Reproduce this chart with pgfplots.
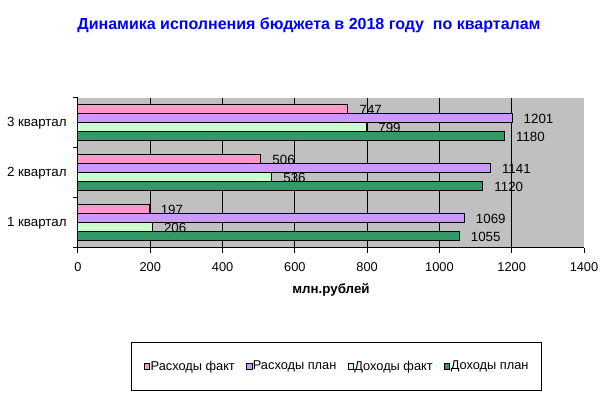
\documentclass[border=0pt]{standalone}
\usepackage{fontspec}
\setmainfont{Liberation Sans}
\usepackage{pgfplots}
\pgfplotsset{compat=1.18}

\definecolor{rfakt}{HTML}{FF99CC}
\definecolor{rplan}{HTML}{CC99FF}
\definecolor{dfakt}{HTML}{CCFFCC}
\definecolor{dplan}{HTML}{339966}
\definecolor{plotgray}{HTML}{C0C0C0}

\begin{document}
\begin{tikzpicture}
\useasboundingbox (-58.5pt,-116.25pt) rectangle (399.75pt,186pt);
\begin{axis}[
    at={(0,0)}, anchor=south west,
    scale only axis, width=379.5pt, height=112.5pt,
    xbar=0pt, bar width=0.18,
    xmin=0, xmax=1400, ymin=0, ymax=3,
    axis x line*=bottom, axis y line*=left,
    axis line style={-, line width=0.75pt, black},
    axis background/.style={fill=plotgray},
    tick align=outside,
    major tick length=3.75pt,
    tick style={black, line width=0.75pt},
    font=\fontsize{9.6}{11}\selectfont,
    /pgf/number format/assume math mode=true,
    /pgf/number format/1000 sep={},
    xtick={0,200,...,1400},
    extra x ticks={200,400,...,1200},
    extra x tick labels={},
    extra x tick style={grid=major, major tick length=0pt},
    grid style={black, line width=0.75pt},
    ytick={0,1,2,3},
    yticklabels={},
    extra y ticks={0.5,1.5,2.5},
    extra y tick labels={1 квартал,2 квартал,3 квартал},
    extra y tick style={major tick length=0pt},
    y tick label style={xshift=-5pt, font=\fontsize{10}{12}\selectfont},
    x tick label style={yshift=-3.5pt},
    xlabel={\textbf{млн.рублей}},
    xlabel style={yshift=1.5pt, font=\fontsize{10}{12}\selectfont},
    title={Динамика исполнения бюджета в 2018 году\ \ по кварталам},
    title style={at={(0.4565,1.487)}, anchor=center, yshift=-6.5pt,
      font=\bfseries\fontsize{12}{14}\selectfont, text=blue},
    nodes near coords,
    every node near coord/.append style={anchor=west, xshift=5pt, yshift=-0.5pt,
      font=\fontsize{10}{12}\selectfont, text=black},
    legend columns=4,
    reverse legend,
    legend image code/.code={\draw[#1, draw=black, line width=0.5pt] (0pt,-2pt) rectangle (4pt,2pt);},
    legend style={at={(0.511,-0.79)}, anchor=center, draw=black,
      line width=0.75pt, inner xsep=9pt, inner ysep=13pt,
      font=\fontsize{9.6}{11}\selectfont,
      nodes={inner sep=0.5pt},
      /tikz/every even column/.append style={column sep=8pt}},
]
\addplot[fill=dplan, draw=black, line width=0.75pt] coordinates {(1055,0.5) (1120,1.5) (1180,2.5)};
\addlegendentry{Доходы план}
\addplot[fill=dfakt, draw=black, line width=0.75pt] coordinates {(206,0.5) (536,1.5) (799,2.5)};
\addlegendentry{Доходы факт}
\addplot[fill=rplan, draw=black, line width=0.75pt] coordinates {(1069,0.5) (1141,1.5) (1201,2.5)};
\addlegendentry{Расходы план}
\addplot[fill=rfakt, draw=black, line width=0.75pt] coordinates {(197,0.5) (506,1.5) (747,2.5)};
\addlegendentry{Расходы факт}
\end{axis}
\end{tikzpicture}
\end{document}
